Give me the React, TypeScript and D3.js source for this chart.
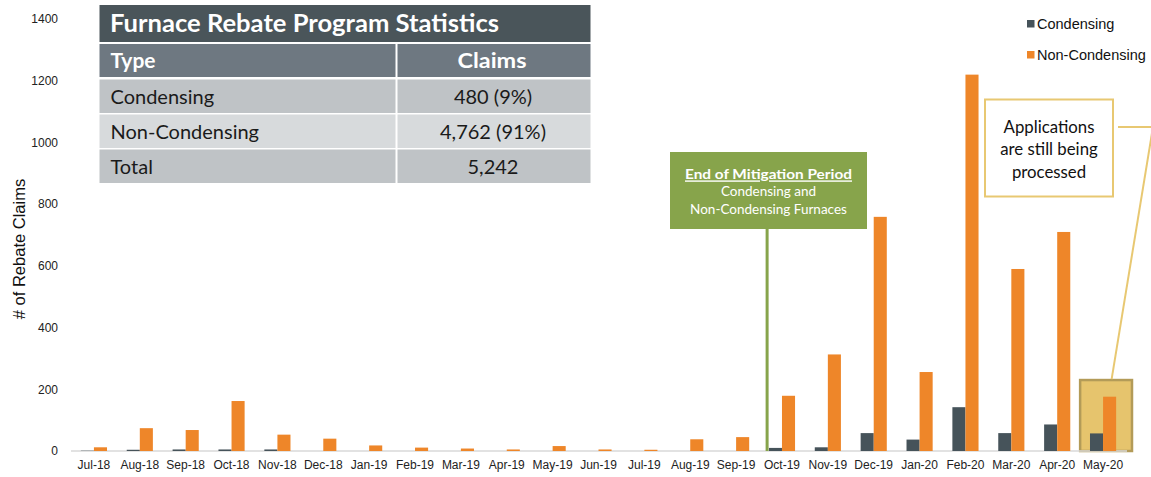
import React from 'react';
import * as d3 from 'd3';

const categories = ['Jul-18','Aug-18','Sep-18','Oct-18','Nov-18','Dec-18','Jan-19','Feb-19','Mar-19','Apr-19','May-19','Jun-19','Jul-19','Aug-19','Sep-19','Oct-19','Nov-19','Dec-19','Jan-20','Feb-20','Mar-20','Apr-20','May-20'];
const condensing = [1,4,5,5,5,0,0,0,0,0,0,0,0,0,0,10,12,58,37,142,58,86,57];
const nonCondensing = [12,74,68,162,53,40,18,11,8,5,16,5,4,38,45,179,313,759,256,1220,590,710,176];
const yTicks = [0,200,400,600,800,1000,1200,1400];
const seriesNames = ['Condensing','Non-Condensing'];
const tableHeader = ['Type','Claims'];
const tableRows = [['Condensing','480 (9%)'],['Non-Condensing','4,762 (91%)'],['Total','5,242']];

const W = 1151, H = 477;
const DARK = '#46535A';
const ORANGE = '#EE8629';
const GREEN = '#87A44B';
const GOLD = '#E8C872';
const FONT = 'Lato, "Open Sans", sans-serif';
const ARIAL = "Arial, 'Liberation Sans', sans-serif";

export default function App() {
  const x = d3.scaleBand<string>().domain(categories).range([71, 1126]);
  const y = d3.scaleLinear().domain([0, 1400]).range([451, 19.1]);
  const bw = x.bandwidth();
  const barW = bw * 0.285;
  const last = categories[categories.length - 1];
  const mitig = 'Oct-19';
  const lineX = (x(mitig) as number) + bw / 2 - barW - 1.8;

  const hlX0 = x(last) as number;
  const hlY0 = y(230);

  return (
    <svg width={W} height={H} style={{ position: 'absolute', left: 0, top: 0, background: '#fff' }}>
      {/* y tick labels */}
      {yTicks.map(t => (
        <text key={t} x={58} y={y(t)} dy="0.35em" textAnchor="end" fontFamily={ARIAL} fontSize={12} fill="#222">{t}</text>
      ))}
      <text transform={`translate(19,249) rotate(-90)`} textAnchor="middle" dy="0.35em" fontFamily={ARIAL} fontSize={16.5} fill="#111"># of Rebate Claims</text>

      {/* highlight box behind last bars */}
      <rect x={hlX0} y={hlY0} width={bw + 6} height={y(0) - hlY0} fill="#E6C46D" stroke="#B39B58" strokeWidth={2.5} />

      {/* baseline */}
      <line x1={71} x2={1127} y1={y(0)} y2={y(0)} stroke="#D9D9D9" strokeWidth={1.5} />

      {/* bars */}
      {categories.map((c, i) => {
        const cx = (x(c) as number) + bw / 2;
        return (
          <g key={c}>
            {condensing[i] > 0 && (
              <rect x={cx - barW} y={y(condensing[i])} width={barW} height={y(0) - y(condensing[i])} fill={DARK} />
            )}
            <rect x={cx} y={y(nonCondensing[i])} width={barW} height={y(0) - y(nonCondensing[i])} fill={ORANGE} />
            <text x={cx} y={464.5} dy="0.35em" textAnchor="middle" fontFamily={ARIAL} fontSize={12} fill="#222">{c}</text>
          </g>
        );
      })}

      {/* mitigation annotation */}
      <line x1={lineX} x2={lineX} y1={229} y2={y(0)} stroke={GREEN} strokeWidth={3} />
      <rect x={670} y={152} width={197} height={77} fill={GREEN} />
      <text x={768.5} y={174.5} dy="0.35em" textAnchor="middle" fontFamily={FONT} fontWeight={700} fontSize={14} fill="#fff" textDecoration="underline" textLength={167} lengthAdjust="spacingAndGlyphs">End of Mitigation Period</text>
      <text x={768.5} y={191.5} dy="0.35em" textAnchor="middle" fontFamily={FONT} fontSize={13.5} fill="#fff">Condensing and</text>
      <text x={768.5} y={209.5} dy="0.35em" textAnchor="middle" fontFamily={FONT} fontSize={13.5} fill="#fff">Non-Condensing Furnaces</text>

      {/* applications annotation */}
      <rect x={985} y={99.5} width={128} height={97} fill="#fff" stroke={GOLD} strokeWidth={2} />
      <text x={1049} y={127} dy="0.35em" textAnchor="middle" fontFamily={FONT} fontSize={16.8} fill="#111">Applications</text>
      <text x={1049} y={149.5} dy="0.35em" textAnchor="middle" fontFamily={FONT} fontSize={16.8} fill="#111">are still being</text>
      <text x={1049} y={172} dy="0.35em" textAnchor="middle" fontFamily={FONT} fontSize={16.8} fill="#111">processed</text>
      <line x1={1118} x2={1156} y1={127} y2={127} stroke={GOLD} strokeWidth={2} />
      <line x1={hlX0 + 31.5} y1={hlY0 - 1} x2={1153} y2={127} stroke={GOLD} strokeWidth={2} />

      {/* legend */}
      {seriesNames.map((s, i) => (
        <g key={s}>
          <rect x={1027} y={20 + i * 31} width={7.5} height={7.5} fill={i === 0 ? DARK : ORANGE} />
          <text x={1037} y={24 + i * 31} dy="0.35em" fontFamily={ARIAL} fontSize={14.5} fill="#111">{s}</text>
        </g>
      ))}

      {/* table */}
      <rect x={99.5} y={5} width={491} height={37} fill="#4A555A" />
      <text x={110} y={23.5} dy="0.35em" fontFamily={FONT} fontWeight={700} fontSize={24} fill="#fff" textLength={389} lengthAdjust="spacingAndGlyphs">Furnace Rebate Program Statistics</text>
      <rect x={99.5} y={44} width={296} height={33} fill="#6E7881" />
      <rect x={397.5} y={44} width={193} height={33} fill="#6E7881" />
      <text x={110.5} y={61} dy="0.35em" fontFamily={FONT} fontWeight={700} fontSize={21} fill="#fff" textLength={45} lengthAdjust="spacingAndGlyphs">{tableHeader[0]}</text>
      <text x={492} y={61} dy="0.35em" textAnchor="middle" fontFamily={FONT} fontWeight={700} fontSize={21} fill="#fff" textLength={69} lengthAdjust="spacingAndGlyphs">{tableHeader[1]}</text>
      {tableRows.map((r, i) => {
        const top = 79.5 + i * 35;
        const fill = i === 1 ? '#D7DADC' : '#BFC3C6';
        return (
          <g key={r[0]}>
            <rect x={99.5} y={top} width={296} height={33.5} fill={fill} />
            <rect x={397.5} y={top} width={193} height={33.5} fill={fill} />
            <text x={110.5} y={top + 17} dy="0.35em" fontFamily={FONT} fontSize={20} fill="#1a1a1a">{r[0]}</text>
            <text x={493} y={top + 17} dy="0.35em" textAnchor="middle" fontFamily={FONT} fontSize={20} fill="#1a1a1a">{r[1]}</text>
          </g>
        );
      })}
    </svg>
  );
}
